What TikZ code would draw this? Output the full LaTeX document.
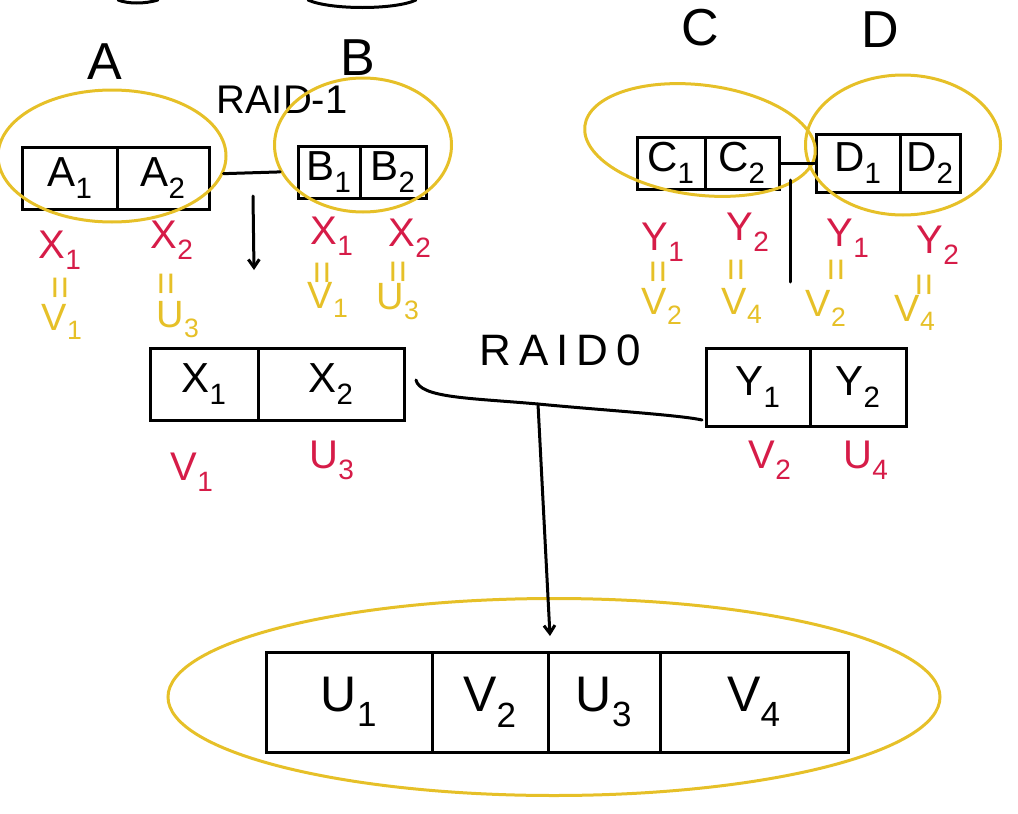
\documentclass[tikz,border=0pt]{standalone}
\usepackage{fontspec}
\setmainfont{Liberation Sans}
\usetikzlibrary{shapes.geometric,arrows.meta}
\definecolor{hy}{RGB}{230,192,40}
\definecolor{hr}{RGB}{214,28,72}
\newcommand\ix[1]{\textsubscript{#1}}
\begin{document}
\begin{tikzpicture}[x=1pt,y=-1pt,
 cell/.style={draw=black, line width=3pt, inner sep=0pt, font=\fontsize{42}{42}\selectfont},
 bigcell/.style={cell, minimum height=100pt, font=\fontsize{50}{50}\selectfont},
 ring/.style={draw=hy, line width=3pt, ellipse, inner sep=0pt},
 wire/.style={black, line width=3pt, line cap=round},
 lbl/.style={font=\fontsize{40}{40}\selectfont, text=hr},
 ylbl/.style={font=\fontsize{38}{38}\selectfont, text=hy},
 eqs/.style={font=\fontsize{40}{40}\selectfont, text=hy, rotate=90},
 head/.style={font=\fontsize{52}{52}\selectfont},
 tip/.style={-{Straight Barb[length=8pt,width=11pt]}}
]
\useasboundingbox (0,0) rectangle (1018,814);
% top cut-off arcs
\draw[wire] (118,0) .. controls (128,4) and (145,4) .. (158,0);
\draw[wire] (308,0) .. controls (330,10) and (395,10) .. (416,0);
% headings
\node[head] (hA) at (105,62) {A};
\node[head] (hB) at (358,58) {B};
\node[head] (hC) at (700,28) {C};
\node[head] (hD) at (880,30) {D};
\node[font=\fontsize{40}{40}\selectfont] (r1) at (282,100) {RAID-1};
\node[font=\fontsize{44}{44}\selectfont\addfontfeature{LetterSpace=18}] (r0) at (560,350) {RAID0};
% disk cells
\node[cell, minimum width=95pt, minimum height=62pt] (a1) at (70,178) {A\ix{1}};
\node[cell, minimum width=92pt, minimum height=62pt] (a2) at (163,178) {A\ix{2}};
\node[cell, minimum width=62pt, minimum height=52pt] (b1) at (329,172) {B\ix{1}};
\node[cell, minimum width=66pt, minimum height=52pt] (b2) at (393,172) {B\ix{2}};
\node[cell, minimum width=68pt, minimum height=52pt] (c1) at (671,163) {C\ix{1}};
\node[cell, minimum width=74pt, minimum height=52pt] (c2) at (742,163) {C\ix{2}};
\node[cell, minimum width=84pt, minimum height=58pt] (d1) at (858,163) {D\ix{1}};
\node[cell, minimum width=60pt, minimum height=58pt] (d2) at (930,163) {D\ix{2}};
\node[cell, minimum width=108pt, minimum height=72pt] (x1) at (204,384) {X\ix{1}};
\node[cell, minimum width=146pt, minimum height=72pt] (x2) at (331,384) {X\ix{2}};
\node[cell, minimum width=104pt, minimum height=78pt] (y1) at (758,387) {Y\ix{1}};
\node[cell, minimum width=96pt, minimum height=78pt] (y2) at (858,387) {Y\ix{2}};
\node[bigcell, minimum width=166pt] (u1) at (349,702) {U\ix{1}};
\node[bigcell, minimum width=116pt] (u2) at (490,702) {V\ix{2}};
\node[bigcell, minimum width=112pt] (u3) at (604,702) {U\ix{3}};
\node[bigcell, minimum width=188pt] (u4) at (754,702) {V\ix{4}};
% yellow rings
\node[ring, minimum width=228pt, minimum height=132pt] (eA) at (112,156) {};
\node[ring, minimum width=177pt, minimum height=134pt] (eB) at (363,145) {};
\node[ring, minimum width=232pt, minimum height=110pt, rotate=-7] (eC) at (700,140) {};
\node[ring, minimum width=195pt, minimum height=140pt] (eD) at (903,145) {};
\node[ring, minimum width=772pt, minimum height=197pt] (eU) at (554,697) {};
% connectors
\draw[wire] (eA.-9) -- (eB.198);
\coordinate (abTop) at (253,196);
\coordinate (abBot) at (254,270);
\draw[wire,tip] (abTop) -- (abBot);
\draw[wire] (c2.east) -- (d1.west);
\coordinate (cdTop) at (790,180);
\coordinate (cdBot) at (790,282);
\draw[wire] (cdTop) -- (cdBot);
\coordinate (r0L) at (416,380);
\coordinate (j) at (538,404);
\coordinate (r0R) at (702,420);
\coordinate (uTop) at (550,636);
\draw[wire] (r0L) .. controls (420,398) and (470,398) .. (j) .. controls (600,410) and (680,415) .. (r0R);
\draw[wire,tip] (j) -- (uTop);
% red labels under A,B
\node[lbl] (xa1) at (60,250) {X\ix{1}};
\node[lbl] (xa2) at (172,240) {X\ix{2}};
\node[lbl] (xb1) at (332,236) {X\ix{1}};
\node[lbl] (xb2) at (410,238) {X\ix{2}};
\node[eqs] (qa1) at (64,288) {=};
\node[eqs] (qa2) at (170,284) {=};
\node[eqs] (qb1) at (326,273) {=};
\node[eqs] (qb2) at (402,272) {=};
\node[ylbl] (va1) at (62,322) {V\ix{1}};
\node[ylbl] (va2) at (178,320) {U\ix{3}};
\node[ylbl] (vb1) at (328,300) {V\ix{1}};
\node[ylbl] (vb2) at (398,302) {U\ix{3}};
% red labels under C,D
\node[lbl] (yc1) at (663,242) {Y\ix{1}};
\node[lbl] (yc2) at (748,232) {Y\ix{2}};
\node[lbl] (yd1) at (848,238) {Y\ix{1}};
\node[lbl] (yd2) at (938,245) {Y\ix{2}};
\node[eqs] (qc1) at (662,272) {=};
\node[eqs] (qc2) at (740,270) {=};
\node[eqs] (qd1) at (840,270) {=};
\node[eqs] (qd2) at (928,285) {=};
\node[ylbl] (vc1) at (662,306) {V\ix{2}};
\node[ylbl] (vc2) at (742,306) {V\ix{4}};
\node[ylbl] (vd1) at (826,308) {V\ix{2}};
\node[ylbl] (vd2) at (915,313) {V\ix{4}};
% red labels under X,Y
\node[lbl] (rx1) at (192,472) {V\ix{1}};
\node[lbl] (rx2) at (332,460) {U\ix{3}};
\node[lbl] (ry1) at (770,460) {V\ix{2}};
\node[lbl] (ry2) at (866,460) {U\ix{4}};
\end{tikzpicture}
\end{document}
